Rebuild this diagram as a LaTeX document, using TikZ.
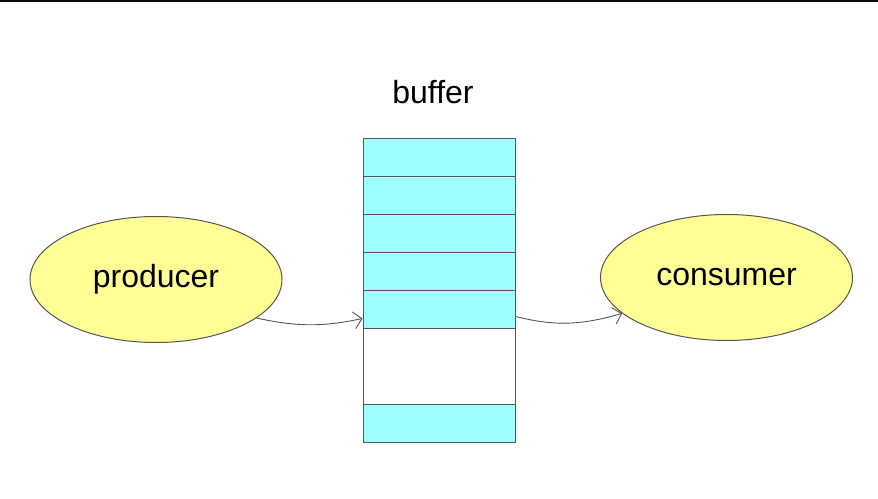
\documentclass[tikz,border=0pt]{standalone}
\usepackage{fontspec}
\setmainfont{Liberation Sans}
\usepackage{tikz}
\usetikzlibrary{shapes.geometric,positioning,calc}
\usetikzlibrary{arrows.meta}

\definecolor{cellcyan}{RGB}{160,255,255}
\definecolor{procyellow}{RGB}{255,255,150}
\definecolor{edgegray}{RGB}{85,85,85}

\tikzset{
	proc/.style={ellipse, draw=edgegray, fill=procyellow, line width=1pt, minimum width=252pt, minimum height=126pt, inner sep=0pt},
	slot/.style={rectangle, draw=edgegray, line width=1pt, minimum width=152pt, minimum height=38pt, inner sep=0pt},
	flow/.style={draw=edgegray, line width=0.9pt, -{Straight Barb[length=8pt,width=17pt]}}
}

\begin{document}
\begin{tikzpicture}[x=1pt,y=1pt,font=\fontsize{32}{38}\selectfont]
	\useasboundingbox (0,0) rectangle (878,498);
	\fill[black!95] (0,495.5) rectangle (878,498);
	% the two processes
	\node[proc] (producer) at (156,218.5) {producer};
	\node[proc] (consumer) at (726.5,220.5) {consumer};
	% the buffer, filled slots and an empty gap
	\foreach \i/\y in {1/340,2/302,3/264,4/226,5/188}
		\node[slot, fill=cellcyan] (slot\i) at (439,\y) {};
	\node[slot, fill=white, minimum height=76pt] (gap) at (439,131) {};
	\node[slot, fill=cellcyan] (slot8) at (439,74) {};
	\node (buf) at (433,406) {buffer};
	\coordinate (inlet) at ($(slot5.south west)+(0,11)$);
	\coordinate (outlet) at ($(slot5.south east)+(0,13)$);
	\path
	(producer.-21) edge [flow, out=-12, in=192] (inlet)
	(outlet) edge [flow, out=-14, in=196] (consumer.-161)
	;
\end{tikzpicture}
\end{document}
